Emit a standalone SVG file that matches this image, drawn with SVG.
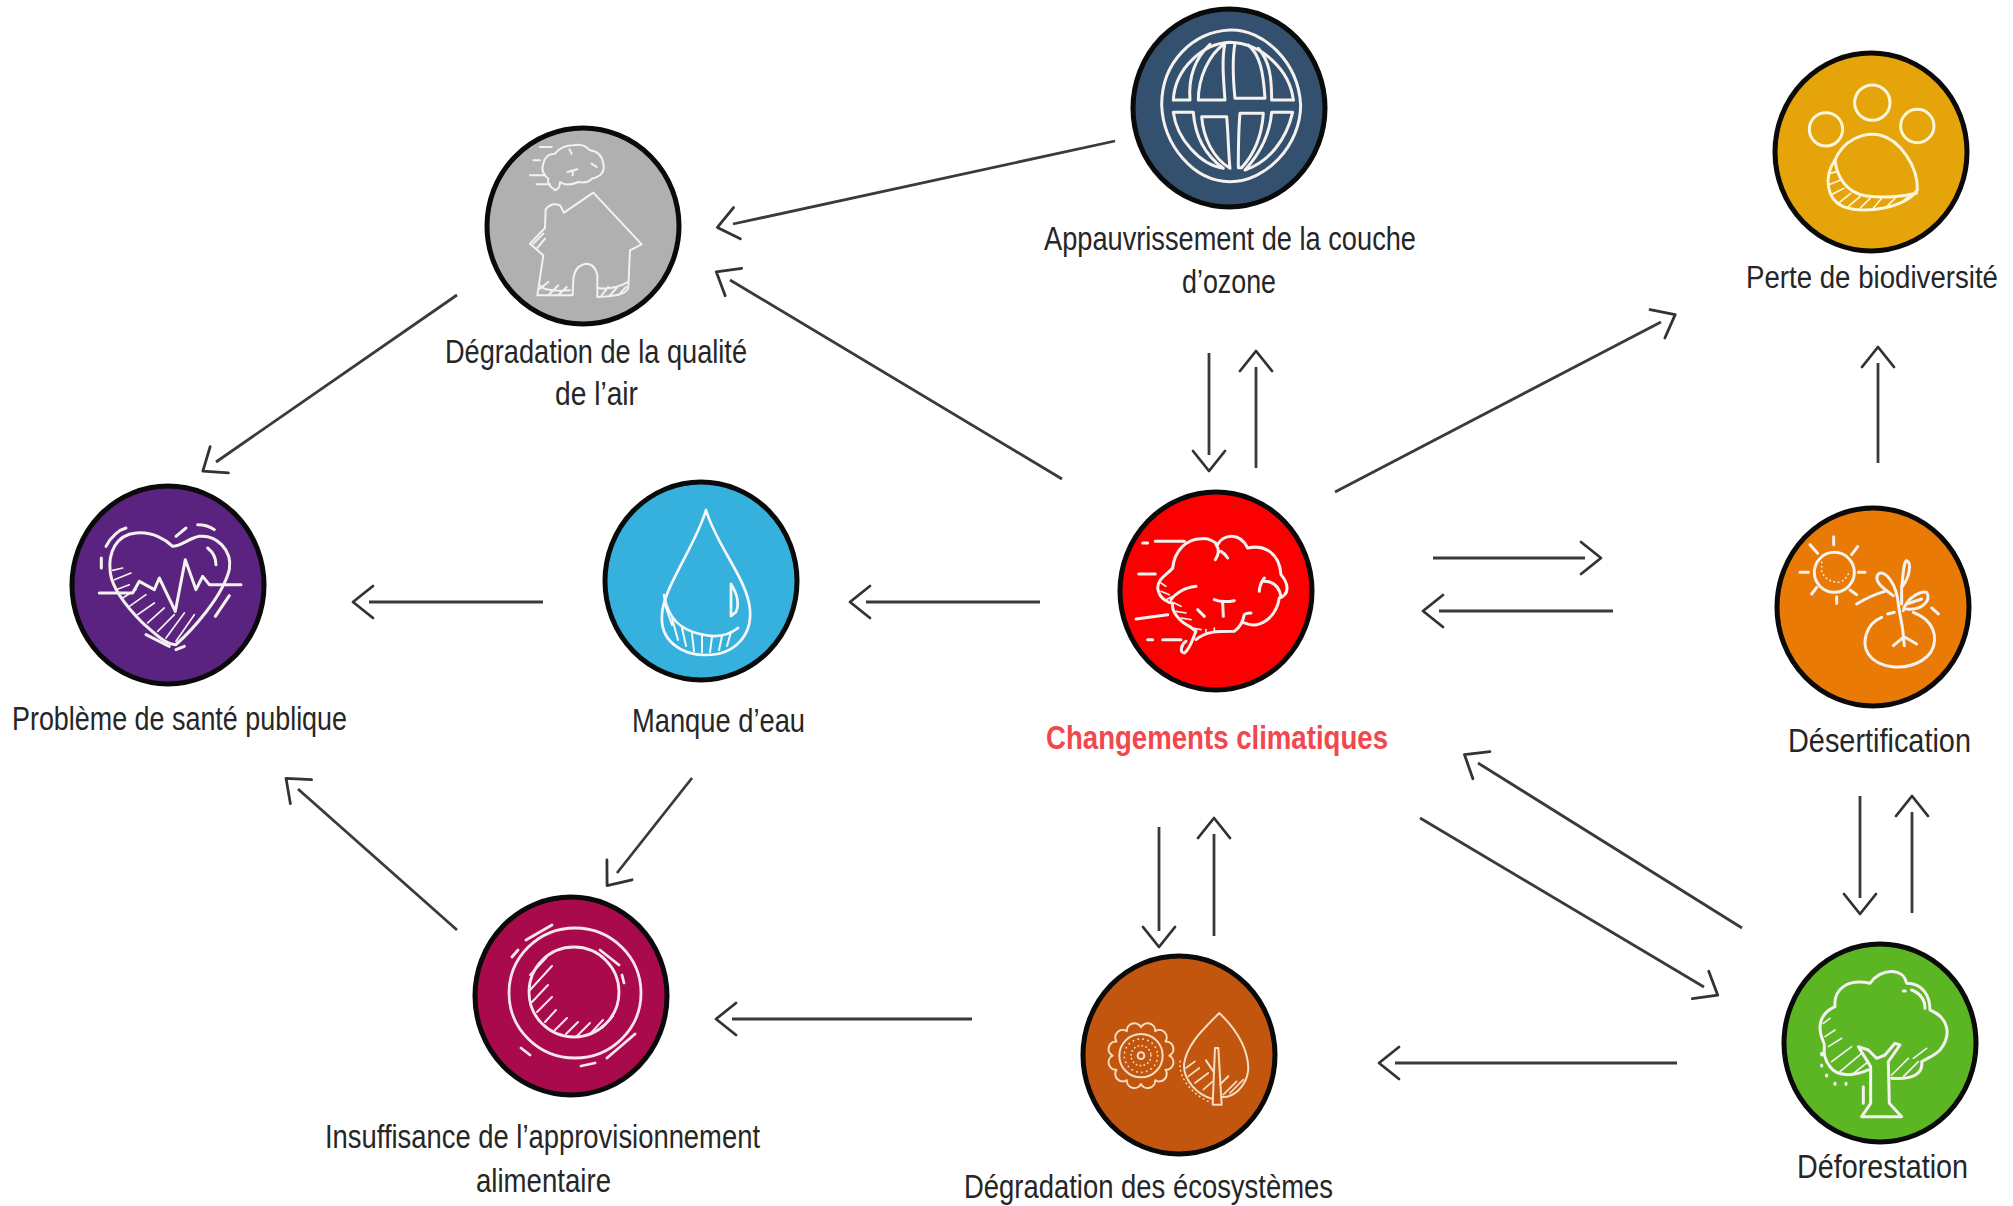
<svg xmlns="http://www.w3.org/2000/svg" width="2013" height="1206" viewBox="0 0 2013 1206">
<style>
.d{stroke:#0a0a0a;stroke-width:5}
.z{fill:none;stroke:#f4f1ee;stroke-width:9;stroke-linecap:round;stroke-linejoin:round}
.l{font-family:"Liberation Sans Narrow","Liberation Sans",sans-serif;font-size:33px;fill:#262626}
.r{fill:#f2474c;font-weight:700}
.a{fill:none;stroke:#3a3a3a;stroke-width:2.8;marker-end:url(#h)}
</style>
<defs>
<marker id="h" markerUnits="userSpaceOnUse" markerWidth="50" markerHeight="50" refX="20" refY="25" orient="auto" overflow="visible">
<path d="M16 9 L36 25 L16 41" fill="none" stroke="#333" stroke-width="2.8" stroke-linecap="round" stroke-linejoin="round"/>
</marker>
</defs>
<rect width="2013" height="1206" fill="#ffffff"/>
<g id="connectors">
<line class="a" x1="1115" y1="141" x2="733" y2="224"/>
<line class="a" x1="1062" y1="479" x2="730" y2="280"/>
<line class="a" x1="457" y1="295" x2="216" y2="462"/>
<line class="a" x1="543" y1="602" x2="369" y2="602"/>
<line class="a" x1="1040" y1="602" x2="866" y2="602"/>
<line class="a" x1="1209" y1="353" x2="1209" y2="455"/>
<line class="a" x1="1256" y1="468" x2="1256" y2="367"/>
<line class="a" x1="1335" y1="492" x2="1661" y2="322"/>
<line class="a" x1="1433" y1="558" x2="1585" y2="558"/>
<line class="a" x1="1613" y1="611" x2="1439" y2="611"/>
<line class="a" x1="1878" y1="463" x2="1878" y2="363"/>
<line class="a" x1="1860" y1="796" x2="1860" y2="898"/>
<line class="a" x1="1912" y1="913" x2="1912" y2="812"/>
<line class="a" x1="1742" y1="928" x2="1478" y2="763"/>
<line class="a" x1="1420" y1="818" x2="1704" y2="987"/>
<line class="a" x1="1677" y1="1063" x2="1395" y2="1063"/>
<line class="a" x1="1159" y1="827" x2="1159" y2="931"/>
<line class="a" x1="1214" y1="936" x2="1214" y2="834"/>
<line class="a" x1="972" y1="1019" x2="732" y2="1019"/>
<line class="a" x1="692" y1="778" x2="617" y2="873"/>
<line class="a" x1="457" y1="930" x2="298" y2="789"/>
</g>
<g id="ozone">
<ellipse class="d" cx="1229" cy="108" rx="96" ry="99" fill="#33506e"/>
<g class="z" transform="translate(1130 5) scale(.3333)">
<path d="M300 75C400 72 505 170 512 300C512 420 410 530 300 530C190 530 100 420 95 300C95 170 190 80 300 75Z"/>
<path d="M130 285C135 190 220 115 300 112C400 115 480 200 490 285"/>
<path d="M130 285H180C175 220 195 160 240 118M205 285H285C280 220 275 160 285 115C235 150 205 220 205 285Z"/>
<path d="M315 115C305 170 310 230 315 280H405C400 200 390 150 355 120M425 285C425 220 420 170 385 130M425 285H490"/>
<path d="M130 322H190C195 390 225 450 280 490C210 480 140 400 130 322Z"/>
<path d="M215 335H290C295 390 295 440 300 490C250 460 220 400 215 335Z"/>
<path d="M330 325H400C395 400 370 450 335 488H325C325 420 325 380 330 325Z"/>
<path d="M425 322H488C470 400 420 470 345 495C395 440 420 380 425 322Z"/>
</g>
<text class="l" x="1044" y="250" textLength="372" lengthAdjust="spacingAndGlyphs">Appauvrissement de la couche</text>
<text class="l" x="1182" y="293" textLength="94" lengthAdjust="spacingAndGlyphs">d’ozone</text>
</g>
<g id="air">
<ellipse class="d" cx="583" cy="226" rx="96" ry="98" fill="#b0b0b0"/>
<g class="z" transform="translate(480 122) scale(.3333)" style="stroke-width:6">
<path d="M197 262Q215 240 240 250L252 272L340 212L485 367L450 385L445 495Q445 522 352 525L352 460Q345 425 318 425Q285 430 280 470L278 520H172L190 400L150 365L195 318Z"/>
<path d="M180 490Q190 510 270 505M355 498Q400 505 445 480M180 500L205 480M205 520L235 490M235 520L260 495M365 520L385 495M390 520L412 495M415 520L438 495M160 365L190 335M170 380L195 350"/>
<path d="M225 203Q200 190 205 170Q180 150 190 125Q195 95 225 95Q245 70 280 70Q310 62 330 85Q365 90 370 125Q378 160 335 170Q325 185 295 180Q260 195 240 180Q240 200 225 205Z"/>
<path d="M262 150L292 142M278 148V160M160 115H180M150 160H195M170 187H210M180 75H215M268 82L275 95M335 125L350 135"/>
</g>
<text class="l" x="445" y="363" textLength="302" lengthAdjust="spacingAndGlyphs">Dégradation de la qualité</text>
<text class="l" x="555" y="405" textLength="83" lengthAdjust="spacingAndGlyphs">de l’air</text>
</g>
<g id="sante">
<ellipse class="d" cx="168" cy="585" rx="96" ry="99" fill="#5a2380"/>
<g class="z" transform="translate(66 483) scale(.3333)">
<path d="M320 190C300 170 260 145 210 150C150 155 125 210 133 270C140 320 180 370 230 420C270 455 300 485 330 485C380 440 470 340 490 260C500 200 450 155 400 160C370 165 345 190 320 190Z"/>
<path d="M100 330H200L220 295L265 320L280 285L328 385L358 230L390 320L410 280L430 305H525"/>
<path d="M120 190C135 160 160 140 180 135M106 225V255M330 160L360 135M395 125Q425 125 445 140M425 195Q450 215 450 245M240 455L310 490M330 500L355 490M448 400L490 338"/>
<path style="stroke-width:5" d="M140 262L170 255M145 290L195 270M150 320L190 305M170 345L210 320M190 370L240 335M215 395L265 360M245 420L295 375M275 445L325 395M300 465L355 390M330 475L385 395"/>
</g>
<text class="l" x="12" y="730" textLength="335" lengthAdjust="spacingAndGlyphs">Problème de santé publique</text>
</g>
<g id="eau">
<ellipse class="d" cx="701" cy="581" rx="96" ry="99" fill="#36b1de"/>
<g fill="none" stroke="#f4f8fa" stroke-width="2.7" stroke-linecap="round" stroke-linejoin="round">
<path d="M706 510C696 545 662 590 662 615C660 640 680 655 706 655C735 655 752 635 750 610C748 580 716 545 706 510Z"/>
<path d="M664 595C668 620 682 630 700 634C715 638 728 636 738 628"/>
<path d="M731 584V616L736 612Q741 600 731 584Z"/>
<path stroke-width="2" d="M665 605L672 625M672 618L678 640M682 628L686 646M692 634L694 651M702 636V652M712 637L710 652M722 636L719 650M731 632L727 646"/>
</g>
<text class="l" x="632" y="732" textLength="173" lengthAdjust="spacingAndGlyphs">Manque d’eau</text>
</g>
<g id="climat">
<ellipse class="d" cx="1216" cy="591" rx="96" ry="99" fill="#fb0000"/>
<g class="z" transform="translate(1116 488) scale(.3333)">
<path d="M170 240C175 190 210 150 260 152C280 150 300 165 305 170C320 140 370 130 395 180C440 170 490 190 495 260C520 290 520 320 490 330C480 390 430 425 385 405"/>
<path d="M240 295C200 300 175 320 165 335M170 240C155 260 125 270 125 300C130 335 160 345 170 345C165 370 190 400 220 415L240 430C230 450 225 480 205 495C190 495 195 470 210 460"/>
<path d="M240 455C270 430 300 430 355 430C370 420 380 405 385 380Q390 375 405 375M445 270Q430 290 430 310M445 280C475 280 490 300 495 325"/>
<path d="M295 335Q320 345 355 338M320 345L322 385M300 170Q315 190 298 215M315 190Q325 195 335 210M245 365L265 385"/>
<path d="M80 165H95M118 160H205M68 258H118M60 393L155 380M95 455H110M140 455H195"/>
<path style="stroke-width:5" d="M135 285L150 295M135 310L160 320M150 335L170 325M175 345L195 355M180 370L210 375M195 390L225 395M230 420L255 425M270 435V425M295 430V420"/>
</g>
<text class="l r" x="1046" y="749" textLength="342" lengthAdjust="spacingAndGlyphs">Changements climatiques</text>
</g>
<g id="desert">
<ellipse class="d" cx="1873" cy="607" rx="96" ry="99" fill="#e87a05"/>
<g class="z" transform="translate(1775 504) scale(.3333)">
<circle cx="178" cy="205" r="60"/>
<path d="M176 98V122M105 122L128 148M248 128L230 152M75 205H100M250 205H270M110 270L125 250M185 278V298M225 258L245 272"/>
<path style="stroke-width:5;stroke-dasharray:1 12" d="M140 175V200Q150 235 195 235Q215 225 222 205"/>
<path d="M320 340C270 360 260 420 280 450C310 495 390 500 440 470C490 440 490 380 450 345C440 335 425 330 415 325M338 330L358 325M470 312L490 330"/>
<path d="M370 300C375 340 385 370 385 400M385 400L355 425M385 400L388 425M390 400L425 420"/>
<path d="M380 250C385 210 385 175 395 170C410 175 405 220 380 250V300"/>
<path d="M355 275C320 250 295 230 310 210C330 195 365 240 370 300"/>
<path d="M385 320C395 280 440 260 455 265C470 290 440 320 395 315M395 300L440 285"/>
<path d="M245 300C270 285 300 270 330 262"/>
</g>
<text class="l" x="1788" y="752" textLength="183" lengthAdjust="spacingAndGlyphs">Désertification</text>
</g>
<g id="biodiversite">
<ellipse class="d" cx="1871" cy="152" rx="96" ry="99" fill="#e5a40a"/>
<g class="z" transform="translate(1640 30) scale(.3333)" style="stroke:#fdf5da">
<circle cx="697" cy="218" r="53"/><circle cx="558" cy="298" r="50"/><circle cx="832" cy="288" r="50"/>
<path d="M585 390C610 330 670 305 720 315C780 330 835 410 832 480C800 530 680 555 610 530C560 510 550 440 585 390Z"/>
<path d="M585 390C590 440 620 490 680 498C730 505 790 500 830 490"/>
<path style="stroke-width:5" d="M570 430L590 425M565 465L602 450M572 495L612 475M595 520L632 490M625 530L660 500M660 535L690 505M700 535L725 505M740 530L765 505M780 520L805 500"/>
</g>
<text class="l" x="1746" y="288" style="font-size:31px" textLength="252" lengthAdjust="spacingAndGlyphs">Perte de biodiversité</text>
</g>
<g id="deforestation">
<ellipse class="d" cx="1880" cy="1043" rx="96" ry="99" fill="#5cb523"/>
<g class="z" transform="translate(1740 930) scale(.3333)">
<path d="M270 410C240 370 260 350 250 335C230 290 240 250 285 230C280 180 320 145 390 160C420 115 490 110 500 160C550 160 570 200 570 240C620 260 640 310 600 360C580 380 560 385 545 395C550 430 520 450 455 445"/>
<path d="M270 410C290 440 340 440 385 420"/>
<path d="M355 350L385 360L410 385L435 375L465 340L480 345L445 395L448 520L485 560H365L392 520V410Z"/>
<path d="M515 180C540 190 555 210 555 235M490 183H496M370 470V520M245 370V375M245 405V408M260 435V438M285 460V463M318 460V463"/>
<path style="stroke-width:5" d="M250 280L270 265M255 320L285 300M265 350L305 325M275 395L335 350M300 425L365 370M335 435L385 395M455 435L505 385M490 440L535 395M520 385L560 355"/>
</g>
<text class="l" x="1797" y="1178" textLength="171" lengthAdjust="spacingAndGlyphs">Déforestation</text>
</g>
<g id="ecosystemes">
<ellipse class="d" cx="1179" cy="1055" rx="96" ry="99" fill="#c2560f"/>
<g class="z" transform="translate(1080 953) scale(.3333)" style="stroke:#f7dcc4;stroke-width:6">
<path d="M268 308A22.500 22.500 0 0 1 256.600 350.500A22.500 22.500 0 0 1 225.500 381.600A22.500 22.500 0 0 1 183 393A22.500 22.500 0 0 1 140.500 381.600A22.500 22.500 0 0 1 109.400 350.500A22.500 22.500 0 0 1 98 308A22.500 22.500 0 0 1 109.400 265.500A22.500 22.500 0 0 1 140.500 234.400A22.500 22.500 0 0 1 183 223A22.500 22.500 0 0 1 225.500 234.400A22.500 22.500 0 0 1 256.600 265.500A22.500 22.500 0 0 1 268 308Z"/>
<circle cx="183" cy="308" r="65"/><circle cx="183" cy="308" r="10"/>
<circle cx="183" cy="308" r="50" style="stroke-width:5;stroke-dasharray:1 14"/><circle cx="183" cy="308" r="30" style="stroke-width:5;stroke-dasharray:1 11"/>
<path d="M418 180C470 230 505 290 505 350C500 400 460 435 425 432M398 438C350 425 310 380 312 335C320 270 380 220 418 180"/>
<path d="M405 285L398 455H425L415 285ZM378 322L400 355M445 370L420 395"/>
<path style="stroke-width:5" d="M318 345L345 325M325 370L358 345M345 390L385 360M370 410L398 385M430 425L470 385M450 420L490 380"/>
<path style="stroke-width:5;stroke-dasharray:1 13" d="M300 325C295 370 330 420 385 445"/>
</g>
<text class="l" x="964" y="1198" textLength="369" lengthAdjust="spacingAndGlyphs">Dégradation des écosystèmes</text>
</g>
<g id="alimentaire">
<ellipse class="d" cx="571" cy="996" rx="96" ry="99" fill="#a90a4c"/>
<g fill="none" stroke="#f8e6ee" stroke-width="2.8" stroke-linecap="round" stroke-linejoin="round">
<ellipse cx="575" cy="993" rx="66" ry="65"/>
<ellipse cx="574" cy="992" rx="45" ry="45"/>
<path d="M526 940L552 925M512 957L518 950M600 950L619 965M622 975L624 983M607 1058L635 1034M521 1048L530 1055M581 1066L595 1063"/>
<path stroke-width="2" d="M530 975L546 958M530 990L552 966M532 1002L548 985M537 1012L552 997M545 1022L556 1010M555 1030L567 1018M566 1034L578 1022M577 1036L590 1023M590 1034L603 1020M602 1028L613 1016"/>
</g>
<text class="l" x="325" y="1148" textLength="435" lengthAdjust="spacingAndGlyphs">Insuffisance de l’approvisionnement</text>
<text class="l" x="476" y="1192" textLength="135" lengthAdjust="spacingAndGlyphs">alimentaire</text>
</g>
</svg>
